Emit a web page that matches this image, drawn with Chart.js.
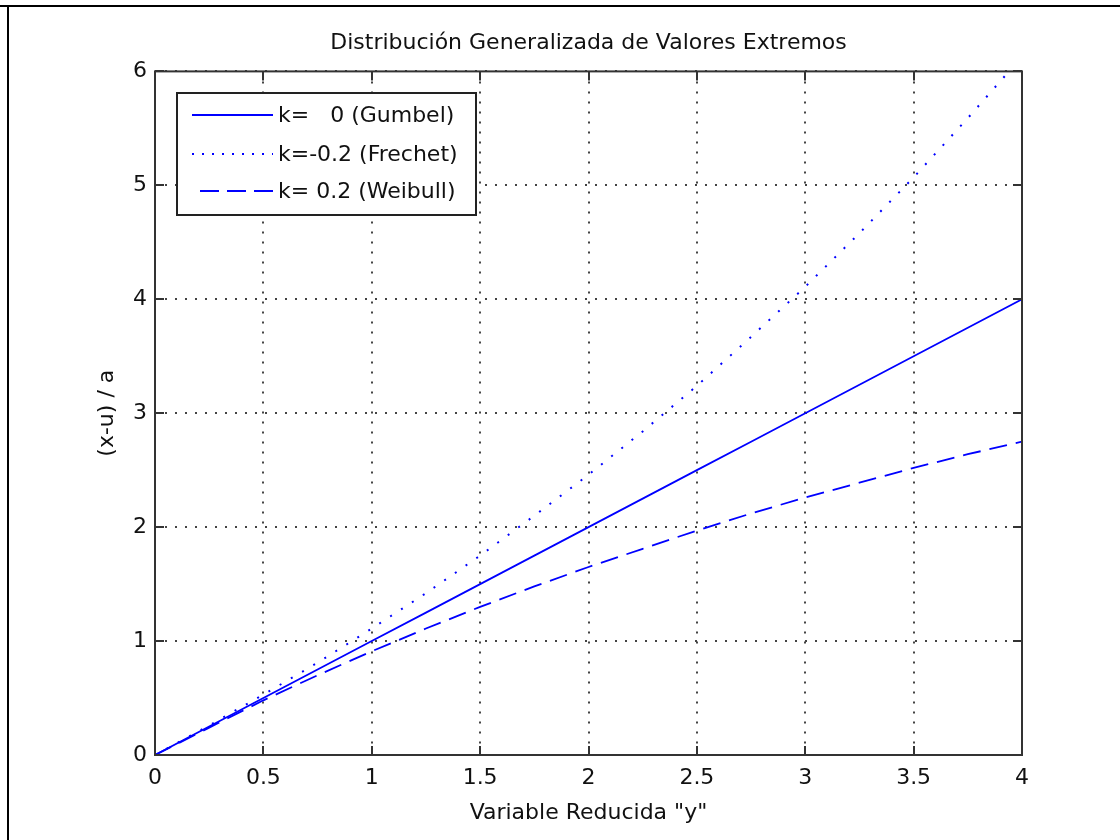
<!DOCTYPE html>
<html>
<head>
<meta charset="utf-8">
<script src="https://cdn.jsdelivr.net/npm/chart.js@4.4.1/dist/chart.umd.min.js"></script>
<style>
  html, body { margin: 0; padding: 0; background: #fff; }
  #wrap { width: 1120px; height: 840px; }
</style>
</head>
<body>
<div id="wrap"><canvas id="gevChart" width="1120" height="840"></canvas></div>
<script>
// values
const yReduced = [0, 0.25, 0.5, 0.75, 1, 1.25, 1.5, 1.75, 2, 2.25, 2.5, 2.75, 3, 3.25, 3.5, 3.75, 4];
const gumbel   = [0, 0.25, 0.5, 0.75, 1, 1.25, 1.5, 1.75, 2, 2.25, 2.5, 2.75, 3, 3.25, 3.5, 3.75, 4];
const frechet  = [0, 0.26, 0.53, 0.81, 1.11, 1.42, 1.75, 2.10, 2.46, 2.84, 3.24, 3.67, 4.11, 4.58, 5.07, 5.59, 6.13];
const weibull  = [0, 0.24, 0.48, 0.70, 0.91, 1.11, 1.30, 1.48, 1.65, 1.81, 1.97, 2.12, 2.26, 2.39, 2.52, 2.64, 2.75];

const seriesLabels = ["k=   0 (Gumbel)", "k=-0.2 (Frechet)", "k= 0.2 (Weibull)"];
const xTickLabels = ["0", "0.5", "1", "1.5", "2", "2.5", "3", "3.5", "4"];
const yTickLabels = ["0", "1", "2", "3", "4", "5", "6"];

const chartTitle = "Distribución Generalizada de Valores Extremos";
const xTitle = 'Variable Reducida "y"';
const yTitle = "(x-u) / a";

const FONT = "'DejaVu Sans', 'Liberation Sans', sans-serif";
const FSIZE = 22;
const INK = "#111";

function toPoints(xs, ys) {
  return xs.map((v, i) => ({ x: v, y: ys[i] }));
}

// 🔹 frame, inward ticks, page border and boxed legend
const framePlugin = {
  id: "frame",
  beforeDraw(chart) {
    const ctx = chart.ctx;
    ctx.save();
    ctx.fillStyle = "#fff";
    ctx.fillRect(0, 0, chart.width, chart.height);
    ctx.fillStyle = "#000";
    ctx.fillRect(0, 5, chart.width, 2);
    ctx.fillRect(7, 5, 2, chart.height);
    ctx.restore();
  },
  afterDraw(chart) {
    const { ctx, chartArea: a, scales } = chart;
    const sx = scales.x, sy = scales.y;
    ctx.save();
    ctx.strokeStyle = "#333";
    ctx.lineWidth = 2;
    ctx.setLineDash([]);
    ctx.strokeRect(a.left, a.top, a.right - a.left, a.bottom - a.top);

    const len = 9;
    ctx.beginPath();
    sx.ticks.forEach((t) => {
      const px = Math.round(sx.getPixelForValue(t.value));
      ctx.moveTo(px, a.bottom); ctx.lineTo(px, a.bottom - len);
      ctx.moveTo(px, a.top); ctx.lineTo(px, a.top + len);
    });
    sy.ticks.forEach((t) => {
      const py = Math.round(sy.getPixelForValue(t.value));
      ctx.moveTo(a.left, py); ctx.lineTo(a.left + len, py);
      ctx.moveTo(a.right, py); ctx.lineTo(a.right - len, py);
    });
    ctx.stroke();

    // legend box
    const box = { left: 177, top: 93, width: 299, height: 122 };
    ctx.fillStyle = "#fff";
    ctx.fillRect(box.left, box.top, box.width, box.height);
    ctx.strokeStyle = "#222";
    ctx.lineWidth = 2;
    ctx.strokeRect(box.left, box.top, box.width, box.height);

    const rows = [115, 154, 191];
    ctx.font = FSIZE + "px " + FONT;
    ctx.textBaseline = "middle";
    ctx.textAlign = "left";
    chart.data.datasets.forEach((ds, i) => {
      const yRow = rows[i];
      ctx.save();
      ctx.strokeStyle = ds.borderColor;
      ctx.lineWidth = ds.borderWidth;
      ctx.setLineDash(ds.legendDash || []);
      ctx.beginPath();
      ctx.moveTo(ds.legendStart, yRow);
      ctx.lineTo(273, yRow);
      ctx.stroke();
      ctx.restore();
      ctx.fillStyle = INK;
      ctx.fillText(ds.label, 278, yRow + 1);
    });
    ctx.restore();
  },
};

const ctx = document.getElementById("gevChart").getContext("2d");

const gevChart = new Chart(ctx, {
  type: "line",
  data: {
    datasets: [
      {
        label: seriesLabels[0],
        data: toPoints(yReduced, gumbel),
        borderColor: "#0000ff",
        borderWidth: 1.8,
        pointRadius: 0,
        legendStart: 192,
      },
      {
        label: seriesLabels[1],
        data: toPoints(yReduced, frechet),
        borderColor: "#0000ff",
        borderWidth: 2,
        borderDash: [2, 11],
        pointRadius: 0,
        legendDash: [2, 8],
        legendStart: 192,
      },
      {
        label: seriesLabels[2],
        data: toPoints(yReduced, weibull),
        borderColor: "#0000ff",
        borderWidth: 1.8,
        borderDash: [18, 9],
        pointRadius: 0,
        legendDash: [19, 8],
        legendStart: 200,
      },
    ],
  },
  options: {
    responsive: false,
    animation: false,
    devicePixelRatio: 1,
    layout: { padding: { left: 0, right: 98, top: 0, bottom: 0 } },
    plugins: {
      legend: { display: false },
      tooltip: { enabled: false },
      title: {
        display: true,
        fullSize: false,
        text: chartTitle,
        color: INK,
        font: { family: FONT, size: FSIZE, weight: "normal" },
        padding: { top: 30, bottom: 15 },
      },
    },
    scales: {
      x: {
        type: "linear",
        min: 0,
        max: 4,
        afterFit: (s) => { s.height = 85; },
        afterBuildTicks: (s) => { s.ticks = xTickLabels.map((t) => ({ value: Number(t) })); },
        ticks: {
          padding: 10,
          color: INK,
          font: { family: FONT, size: FSIZE },
          callback: (v, i) => xTickLabels[i],
        },
        grid: { color: "#444", lineWidth: 2, drawTicks: false },
        border: { display: false, dash: [2, 8] },
        title: {
          display: true,
          text: xTitle,
          color: INK,
          font: { family: FONT, size: FSIZE },
          padding: { top: 0, bottom: 14 },
        },
      },
      y: {
        min: 0,
        max: 6,
        afterFit: (s) => { s.width = 155; },
        afterBuildTicks: (s) => { s.ticks = yTickLabels.map((t) => ({ value: Number(t) })); },
        ticks: {
          padding: 8,
          color: INK,
          font: { family: FONT, size: FSIZE },
          callback: (v, i) => yTickLabels[i],
        },
        grid: { color: "#444", lineWidth: 2, drawTicks: false },
        border: { display: false, dash: [2, 8] },
        title: {
          display: true,
          text: yTitle,
          color: INK,
          font: { family: FONT, size: FSIZE },
          padding: { top: 94, bottom: 0 },
        },
      },
    },
  },
  plugins: [framePlugin],
});
</script>
</body>
</html>
